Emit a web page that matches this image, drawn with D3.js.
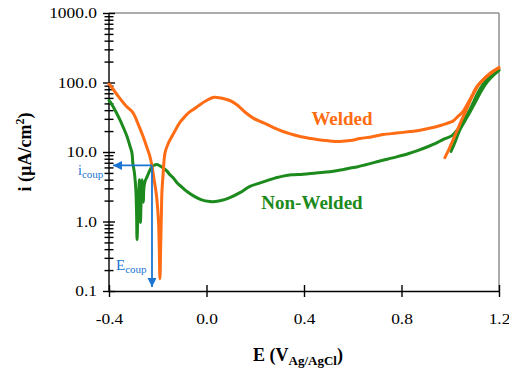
<!DOCTYPE html>
<html>
<head>
<meta charset="utf-8">
<script src="https://cdn.jsdelivr.net/npm/d3@7"></script>
<style>
  body { margin: 0; background: #fff; }
  svg { display: block; }
  text { font-family: "Liberation Serif", "Times New Roman", serif; }
</style>
</head>
<body>
<svg id="chart" width="509" height="370"></svg>
<script>
// ---------- Data ----------
const xTicks = [-0.4, 0.0, 0.4, 0.8, 1.2];
const yTicks = [0.1, 1, 10, 100, 1000];

// Welded, forward scan
const weldedE = [-0.4, -0.396, -0.36, -0.33, -0.302, -0.28, -0.26, -0.245, -0.232, -0.222, -0.215, -0.208, -0.203, -0.197, -0.194, -0.191, -0.188, -0.185, -0.183, -0.178, -0.17, -0.156, -0.142, -0.125, -0.109, -0.09, -0.068, -0.045, -0.027, 0.0, 0.027, 0.05, 0.068, 0.09, 0.105, 0.12, 0.137, 0.16, 0.19, 0.22, 0.248, 0.28, 0.314, 0.35, 0.383, 0.42, 0.453, 0.5, 0.548, 0.59, 0.63, 0.68, 0.724, 0.78, 0.835, 0.876, 0.91, 0.945, 0.975, 1.0, 1.011, 1.03, 1.052, 1.066, 1.081, 1.095, 1.11, 1.13, 1.15, 1.175, 1.2];
const weldedI = [95, 92, 62, 46, 37, 25, 16.7, 11.8, 8.6, 5.8, 4.0, 2.8, 2.0, 1.0, 0.45, 0.15, 0.45, 1.3, 2.6, 4.8, 9.8, 13.5, 16.7, 21.5, 26.6, 32, 38, 43, 48, 55, 61, 60.5, 59, 56, 53, 49, 44, 37, 31, 27.5, 25, 22, 19.7, 18, 16.7, 15.8, 15.1, 14.5, 14.2, 14.6, 15.6, 16.6, 17.8, 18.7, 19.7, 20.5, 21.8, 23.3, 25, 26.8, 27.8, 32, 38, 46, 57, 71, 88, 104, 122, 143, 164];
// Welded, return branch
const weldedRetE = [0.978, 0.995, 1.012, 1.03, 1.047, 1.065, 1.081, 1.1, 1.12, 1.15, 1.175, 1.2];
const weldedRetI = [8.3, 11, 15.1, 21, 29, 40, 54, 74, 97, 124, 145, 162];

// Non-Welded, forward scan
const nonWeldedE = [-0.4, -0.396, -0.375, -0.355, -0.34, -0.326, -0.315, -0.306, -0.302, -0.296, -0.29, -0.287, -0.285, -0.282, -0.278, -0.275, -0.273, -0.271, -0.269, -0.267, -0.264, -0.261, -0.259, -0.257, -0.252, -0.244, -0.234, -0.224, -0.213, -0.203, -0.19, -0.175, -0.162, -0.15, -0.135, -0.121, -0.1, -0.08, -0.05, -0.02, 0.014, 0.027, 0.06, 0.096, 0.137, 0.178, 0.22, 0.26, 0.289, 0.314, 0.35, 0.396, 0.45, 0.507, 0.55, 0.59, 0.617, 0.65, 0.69, 0.724, 0.78, 0.83, 0.863, 0.91, 0.94, 0.97, 1.007, 1.025, 1.04, 1.06, 1.081, 1.098, 1.114, 1.135, 1.155, 1.18, 1.2];
const nonWeldedI = [55, 53, 40, 29, 22, 16.7, 12.5, 9.8, 6.8, 5.1, 2.9, 1.4, 0.55, 1.1, 2.5, 4.0, 2.2, 0.97, 1.6, 3.2, 4.0, 2.6, 1.9, 3.0, 3.8, 4.4, 5.3, 6.2, 6.5, 6.6, 6.3, 5.8, 5.3, 4.7, 4.2, 3.6, 3.1, 2.7, 2.3, 2.05, 1.94, 1.93, 2.0, 2.2, 2.6, 3.2, 3.6, 4.0, 4.3, 4.5, 4.7, 4.8, 5.0, 5.2, 5.5, 5.9, 6.1, 6.5, 7.1, 7.6, 8.5, 9.5, 10.4, 12.0, 13.3, 15.1, 17.2, 20, 23, 30, 41, 55, 72, 95, 118, 138, 152];
// Non-Welded, return branch
const nonWeldedRetE = [1.003, 1.02, 1.04, 1.06, 1.08, 1.1, 1.12, 1.145, 1.17, 1.2];
const nonWeldedRetI = [10.2, 14, 21, 28, 37, 50, 68, 95, 120, 150];

// Coupling point
const coupE = [-0.2236];
const coupI = [6.4];

const labels = { welded: "Welded", nonWelded: "Non-Welded" };

// ---------- Layout ----------
const svg = d3.select("#chart");
const margin = { left: 109, top: 13, right: 10, bottom: 79 };
const W = 509, H = 370;
const x0 = margin.left, x1 = W - margin.right;
const y0 = margin.top, y1 = H - margin.bottom;

const x = d3.scaleLinear().domain([-0.4, 1.2]).range([x0, x1]);
const y = d3.scaleLog().domain([0.1, 1000]).range([y1, y0]);

const ORANGE = "#ff6c14";
const GREEN = "#1c8a1c";
const BLUE = "#1a74d2";
const STRETCH = 1.16;

function stretch(sel) {
  sel.each(function () {
    const w = this.getComputedTextLength();
    if (w > 0) {
      this.setAttribute("textLength", w * STRETCH);
      this.setAttribute("lengthAdjust", "spacingAndGlyphs");
    }
  });
}

// frame (top and right in gray)
svg.append("line").attr("x1", x0).attr("x2", x1).attr("y1", y0).attr("y2", y0)
  .attr("stroke", "#909090").attr("stroke-width", 1.5);
svg.append("line").attr("x1", x1).attr("x2", x1).attr("y1", y0).attr("y2", y1)
  .attr("stroke", "#909090").attr("stroke-width", 1.5);

// minor y ticks
const minor = [];
[0.1, 1, 10, 100].forEach(d => { for (let k = 2; k <= 9; k++) minor.push(d * k); });

function styleAxis(g) {
  g.selectAll("path, line").attr("stroke", "#000").attr("stroke-width", 1.4);
  g.selectAll("text").attr("fill", "#000")
    .style("font-family", '"Liberation Serif", "Times New Roman", serif')
    .style("font-size", "15px");
}

// y axis
const yAxisL = svg.append("g").attr("transform", `translate(${x0},0)`)
  .call(d3.axisLeft(y).tickValues(yTicks).tickSizeInner(6).tickSizeOuter(0)
    .tickPadding(6).tickFormat(d3.format(".1f")));
styleAxis(yAxisL);
yAxisL.select(".domain").remove();
stretch(yAxisL.selectAll("text"));
const yAxisR = svg.append("g").attr("transform", `translate(${x0},0)`)
  .call(d3.axisRight(y).tickValues(yTicks).tickSize(6).tickFormat(""));
styleAxis(yAxisR); yAxisR.select(".domain").remove();
const yMinL = svg.append("g").attr("transform", `translate(${x0},0)`)
  .call(d3.axisLeft(y).tickValues(minor).tickSize(4.5).tickFormat(""));
styleAxis(yMinL); yMinL.select(".domain").remove();
const yMinR = svg.append("g").attr("transform", `translate(${x0},0)`)
  .call(d3.axisRight(y).tickValues(minor).tickSize(4.5).tickFormat(""));
styleAxis(yMinR); yMinR.select(".domain").remove();
svg.append("line").attr("x1", x0).attr("x2", x0).attr("y1", y0).attr("y2", y1)
  .attr("stroke", "#000").attr("stroke-width", 1.4);

// x axis
const xAxisB = svg.append("g").attr("transform", `translate(0,${y1})`)
  .call(d3.axisBottom(x).tickValues(xTicks).tickSizeInner(6).tickSizeOuter(0)
    .tickPadding(16).tickFormat(d => d3.format(".1f")(d).replace("\u2212", "-")));
styleAxis(xAxisB);
stretch(xAxisB.selectAll("text"));
const xAxisT = svg.append("g").attr("transform", `translate(0,${y1})`)
  .call(d3.axisTop(x).tickValues(xTicks).tickSize(6).tickFormat(""));
styleAxis(xAxisT); xAxisT.select(".domain").remove();

// axis titles
const xt = svg.append("text").attr("x", 298).attr("y", 361).attr("text-anchor", "middle")
  .style("font-size", "18px").style("font-weight", "bold");
xt.append("tspan").text("E (V");
xt.append("tspan").attr("dy", 4).style("font-size", "13px").text("Ag/AgCl");
xt.append("tspan").attr("dy", -4).text(")");

const yt = svg.append("text").attr("transform", `translate(31,${(y0 + y1) / 2}) rotate(-90)`)
  .attr("text-anchor", "middle").style("font-size", "18px").style("font-weight", "bold");
yt.append("tspan").text("i (µA/cm");
yt.append("tspan").attr("dy", -7).style("font-size", "12px").text("2");
yt.append("tspan").attr("dy", 7).text(")");

// curves
const line = d3.line().x(d => x(d[0])).y(d => y(d[1])).curve(d3.curveCatmullRom.alpha(0.5));

function draw(E, I, color) {
  svg.append("path").datum(E.map((e, k) => [e, I[k]]))
    .attr("d", line).attr("fill", "none").attr("stroke", color)
    .attr("stroke-width", 3).attr("stroke-linejoin", "round").attr("stroke-linecap", "round");
}
draw(nonWeldedE, nonWeldedI, GREEN);
draw(nonWeldedRetE, nonWeldedRetI, GREEN);
draw(weldedE, weldedI, ORANGE);
draw(weldedRetE, weldedRetI, ORANGE);

// coupling arrows
const cx = x(coupE[0]), cy = y(coupI[0]);
svg.append("defs").append("marker").attr("id", "ah").attr("viewBox", "0 0 10 10")
  .attr("refX", 10).attr("refY", 5).attr("markerWidth", 11).attr("markerHeight", 9)
  .attr("markerUnits", "userSpaceOnUse").attr("orient", "auto")
  .append("path").attr("d", "M0,0 L10,5 L0,10 Z").attr("fill", BLUE);
svg.append("line").attr("x1", cx).attr("y1", cy).attr("x2", x0 + 4).attr("y2", cy)
  .attr("stroke", BLUE).attr("stroke-width", 1.8).attr("marker-end", "url(#ah)");
svg.append("line").attr("x1", cx).attr("y1", cy).attr("x2", cx).attr("y2", y1 - 4)
  .attr("stroke", BLUE).attr("stroke-width", 1.8).attr("marker-end", "url(#ah)");

const it = svg.append("text").attr("x", 78).attr("y", 175).attr("fill", BLUE).style("font-size", "14px");
it.append("tspan").text("i");
it.append("tspan").attr("dy", 3).style("font-size", "11px").text("coup");
const et = svg.append("text").attr("x", 116).attr("y", 270).attr("fill", BLUE).style("font-size", "15px");
et.append("tspan").text("E");
et.append("tspan").attr("dy", 3).style("font-size", "11px").text("coup");

// series labels
svg.append("text").attr("x", 342).attr("y", 125).attr("text-anchor", "middle")
  .attr("fill", ORANGE).style("font-size", "19px").style("font-weight", "bold").text(labels.welded);
svg.append("text").attr("x", 312).attr("y", 209).attr("text-anchor", "middle")
  .attr("fill", GREEN).style("font-size", "19px").style("font-weight", "bold").text(labels.nonWelded);
</script>
</body>
</html>
